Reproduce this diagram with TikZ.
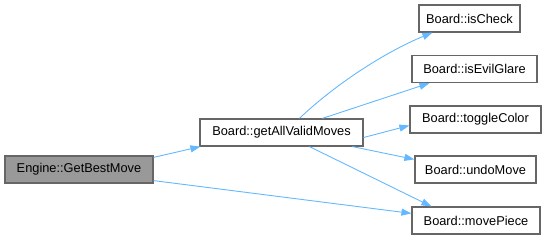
\documentclass[tikz,border=0pt]{standalone}
\usepackage{fontspec}
\setmainfont{Liberation Sans}
\usetikzlibrary{arrows.meta}
\definecolor{edgeblue}{HTML}{63B8FF}
\begin{document}
\begin{tikzpicture}[x=1pt, y=-1pt,
	fn/.style={draw=black!60, line width=1.2pt, fill=white, inner sep=0pt, minimum height=27pt, font=\fontsize{12.8}{15}\selectfont},
	call/.style={draw=edgeblue, line width=0.9pt, -{Triangle[length=10pt,width=7pt]}}]
	\useasboundingbox (0,0) rectangle (545,240);
	\node [fn, fill=black!40, minimum width=148pt] (engine) at (79,169.5) {Engine::GetBestMove};
	\node [fn, minimum width=163pt] (getall) at (281.5,132.5) {Board::getAllValidMoves};
	\node [fn, minimum width=101pt] (ischeck) at (469.5,18.5) {Board::isCheck};
	\node [fn, minimum width=125pt] (evilglare) at (474.5,69) {Board::isEvilGlare};
	\node [fn, minimum width=131pt] (toggle) at (475.5,119.5) {Board::toggleColor};
	\node [fn, minimum width=121pt] (undo) at (475.5,169.5) {Board::undoMove};
	\node [fn, minimum width=128pt] (move) at (476,220.5) {Board::movePiece};
	\draw [call] ([yshift=-2pt]engine.north east) -- ([xshift=1pt]getall.south west);
	\draw [call] ([yshift=3pt]engine.south east) -- ([yshift=-7pt]move.north west);
	\draw [call] ([xshift=100pt]getall.north west) .. controls (340,80) and (390,50) .. ([xshift=14pt]ischeck.south west);
	\draw [call] ([xshift=123pt]getall.north west) -- ([xshift=18pt]evilglare.south west);
	\draw [call] ([yshift=-5pt]getall.east) -- ([yshift=-6pt]toggle.west);
	\draw [call] ([xshift=153pt]getall.south west) -- ([yshift=-4pt]undo.north west);
	\draw [call] ([xshift=110pt]getall.south west) -- ([xshift=20pt]move.north west);
\end{tikzpicture}
\end{document}
